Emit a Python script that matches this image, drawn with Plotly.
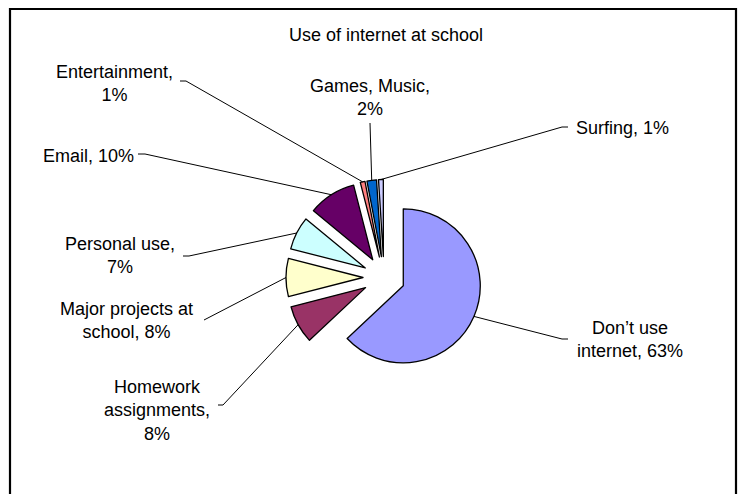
import math
import plotly.graph_objects as go

# ---- data -------------------------------------------------------------
categories = [
    "Don’t use internet",
    "Homework assignments",
    "Major projects at school",
    "Personal use",
    "Email",
    "Entertainment",
    "Games, Music",
    "Surfing",
]
shares = [63, 8, 8, 7, 10, 1, 2, 1]
slice_colors = ["#9999FF", "#993366", "#FFFFCC", "#CCFFFF",
                "#660066", "#FF8080", "#0066CC", "#CCCCFF"]
chart_title = "Use of internet at school"

# words per line when a data label is wrapped
label_wrap = [[2, 2], [1, 1, 1], [3, 2], [2, 1], [2], [1, 1], [2, 1], [2]]

# ---- layout geometry (pixels) ------------------------------------------
W, H = 745, 494
CX, CY = 384, 277.5        # pie centre
R = 77                     # slice radius
EXPLODE = 21               # distance each slice is pulled out
PULL = EXPLODE / R
FONT = dict(family="Liberation Sans, Arial, sans-serif", size=18, color="black")

# label block centres and the point where each leader line leaves its label
label_xy = [(630, 339.5), (157, 410), (126, 320.5), (120, 255.5),
            (88, 156), (114, 83.5), (370, 98), (622, 128)]
leader_from = [(568, 339), (218, 405), (204, 320), (183, 256),
               (138, 154), (180, 81), (370, 123), (568, 127)]
stub = [-6, 5, 0, 6, 7, 6, 0, -6]


def px(x):
    return x / W


def py(y):
    return 1 - y / H


def wrap(text, counts):
    words = text.split(" ")
    lines, k = [], 0
    for c in counts:
        lines.append(" ".join(words[k:k + c]))
        k += c
    return "<br>".join(lines)


half = R + EXPLODE
fig = go.Figure(go.Pie(
    labels=categories,
    values=shares,
    sort=False,
    direction="clockwise",
    rotation=0,
    pull=[PULL] * len(shares),
    marker=dict(colors=slice_colors, line=dict(color="black", width=1.3)),
    textinfo="none",
    hoverinfo="label+percent",
    showlegend=False,
    domain=dict(x=[px(CX - half), px(CX + half)],
                y=[py(CY + half), py(CY - half)]),
))

total = sum(shares)
shapes, annotations = [], []
cum = 0
for i, (cat, v) in enumerate(zip(categories, shares)):
    mid = (cum + v / 2) / total * 2 * math.pi
    cum += v
    # midpoint of the exploded slice's outer arc
    ex = CX + (R + EXPLODE) * math.sin(mid)
    ey = CY - (R + EXPLODE) * math.cos(mid)
    lx, ly = leader_from[i]
    path = f"M {px(lx)},{py(ly)} L {px(lx + stub[i])},{py(ly)} L {px(ex)},{py(ey)}"
    shapes.append(dict(type="path", xref="paper", yref="paper", path=path,
                       line=dict(color="black", width=1)))
    tx, ty = label_xy[i]
    annotations.append(dict(
        text=wrap(f"{cat}, {v}%", label_wrap[i]),
        x=px(tx), y=py(ty), xref="paper", yref="paper",
        xanchor="center", yanchor="middle", align="center",
        showarrow=False, font=FONT,
    ))

# chart area frame
shapes.append(dict(type="rect", xref="paper", yref="paper",
                   x0=px(10), x1=px(736), y0=py(520), y1=py(9),
                   line=dict(color="black", width=2.2)))

annotations.append(dict(text=chart_title, x=px(386), y=py(35),
                        xref="paper", yref="paper", xanchor="center",
                        yanchor="middle", showarrow=False, font=FONT))

fig.update_layout(
    width=W, height=H, autosize=False,
    margin=dict(l=0, r=0, t=0, b=0),
    paper_bgcolor="white", plot_bgcolor="white",
    shapes=shapes, annotations=annotations,
)

fig.write_html("out.html")
